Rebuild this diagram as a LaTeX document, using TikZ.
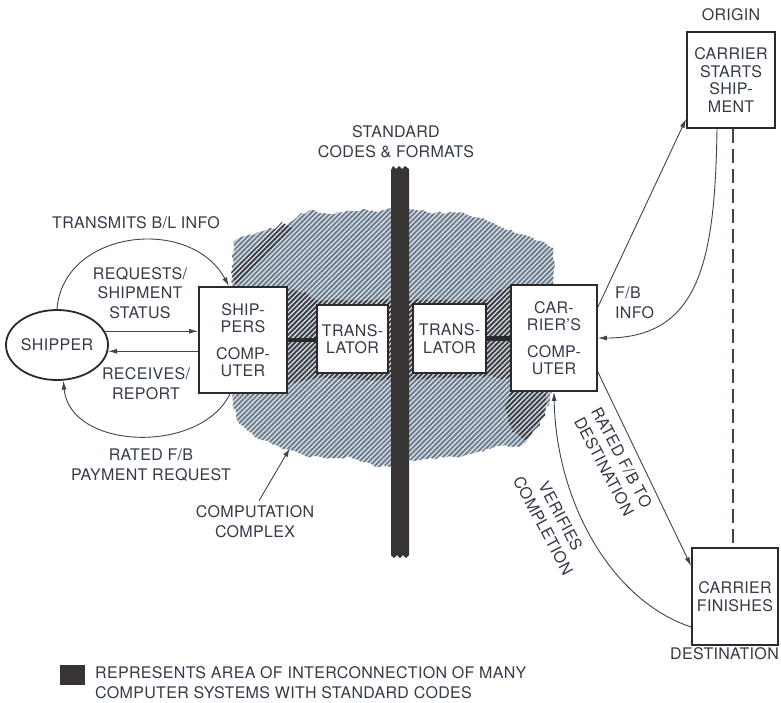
\documentclass[tikz,border=0pt]{standalone}
\usepackage{fontspec}
\setmainfont{TeX Gyre Heros}[LetterSpace=2]
\usetikzlibrary{shapes.geometric,arrows.meta,patterns.meta,decorations.pathmorphing}
\definecolor{ink}{HTML}{343B49}
\definecolor{edge}{HTML}{2A2A2C}
\definecolor{wire}{HTML}{3E4550}
\definecolor{hatchbase}{HTML}{D3D9DE}
\definecolor{hatchlight}{HTML}{66788A}
\definecolor{hatchdark}{HTML}{3E4046}
\definecolor{barfill}{HTML}{383434}
\newcommand\lblsize{\fontsize{16}{19.8}\selectfont}
\newcommand\boxsize{\fontsize{16}{17.5}\selectfont}
\begin{document}
\begin{tikzpicture}[x=1pt,y=-1pt,
  lbl/.style={font=\lblsize, text=ink, align=center, inner sep=1pt},
  box/.style={draw=edge, fill=white, line width=1.8pt, font=\boxsize, text=ink,
              align=center, inner sep=0pt},
  arr/.style={draw=wire, line width=0.9pt, -{Latex[length=9pt,width=5pt]}},
  link/.style={draw=edge, line width=4.5pt},
  lighthatch/.style={fill=hatchbase, postaction={pattern={Lines[angle=45,distance=3.5pt,line width=1.7pt]}, pattern color=hatchlight}},
  darkhatch/.style={pattern={Lines[angle=45,distance=3.5pt,line width=1.7pt]}, pattern color=hatchdark},
  ragged/.style={decorate, decoration={random steps,segment length=4pt,amplitude=1.5pt}}]
\useasboundingbox (0,0) rectangle (781,702);
\fill[white] (0,0) rectangle (781,702);

% computation complex: hatched area with ragged edge
\pgfmathsetseed{12}
\path[lighthatch, ragged]
  (233,242) -- (245,236) -- (258,232) -- (272,229) -- (287,226) -- (298,216) -- (310,210)
  -- (322,213) -- (335,214) -- (350,211) -- (365,209) -- (380,211) -- (392,208) -- (408,209)
  -- (420,211) -- (435,213) -- (450,212) -- (465,214) -- (480,218) -- (495,224) -- (507,230)
  -- (520,234) -- (533,238) -- (545,243) -- (553,248) -- (554,270) -- (553,300) -- (553,350)
  -- (552,380) -- (550,400) -- (540,423) -- (530,437) -- (520,447) -- (505,445) -- (490,449)
  -- (480,451) -- (465,455) -- (447,457) -- (430,458) -- (410,460) -- (392,466) -- (380,467)
  -- (365,462) -- (347,457) -- (330,458) -- (307,457) -- (295,451) -- (280,447) -- (262,440)
  -- (248,431) -- (237,420) -- (233,400) -- (233,350) -- (232,300) -- (233,270) -- cycle;
% darker hatching close to the computers and translators
\fill[darkhatch, ragged]
  (287,290) -- (305,292) -- (317,300) -- (391,300) -- (409,300) -- (486,300) -- (500,290)
  -- (511,286) -- (511,380) -- (487,376) -- (409,380) -- (391,380) -- (317,378) -- (287,385) -- cycle;
\fill[darkhatch, ragged]
  (511,391) -- (547,391) -- (544,418) -- (527,440) -- (512,432) -- (505,405) -- cycle;
% dark band on the upper left edge
\fill[darkhatch] (231,272) -- (282,222) -- (292,228) -- (236,286) -- cycle;

% standard codes & formats barrier
\fill[barfill] (391,170) -- (393,166) -- (396,169) -- (399,166) -- (402,169) -- (405,166)
  -- (409,169) -- (409,555) -- (406,558) -- (403,555) -- (400,558) -- (397,555) -- (394,558)
  -- (391,555) -- cycle;

% nodes
\node[draw=edge, fill=white, line width=1.8pt, ellipse, minimum width=88pt, minimum height=70pt,
      inner sep=0pt, font=\boxsize, text=ink] (shipper) at (57,345) {SHIPPER};
\node[box, minimum width=88pt, minimum height=106pt] (spc) at (243,340)
  {SHIP-\\PERS\\[9pt]COMP-\\UTER};
\node[box, minimum width=71pt, minimum height=68pt] (trl) at (352.5,339) {TRANS-\\LATOR};
\node[box, minimum width=73pt, minimum height=69pt] (trr) at (449.5,338.5) {TRANS-\\LATOR};
\node[box, minimum width=86pt, minimum height=106pt] (cc) at (554,338)
  {CAR-\\RIER'S\\[9pt]COMP-\\UTER};
\node[box, minimum width=88pt, minimum height=96pt] (cs) at (731,80)
  {CARRIER\\STARTS\\SHIP-\\MENT};
\node[box, minimum width=86pt, minimum height=97pt] (cf) at (735,596.5)
  {CARRIER\\FINISHES};

% links to the translators
\draw[link] (spc.east) -- (spc.east -| trl.west);
\draw[link] (trr.east) -- (trr.east -| cc.west);

% shipper side flows
\draw[arr] (shipper.16) -- (shipper.16 -| spc.west);
\draw[arr] (spc.west |- shipper.-7) -- (shipper.-7);
\draw[arr] (shipper.north) .. controls (63,230) and (190,215) .. ([xshift=-14pt]spc.north);
\draw[arr] ([xshift=-13pt]spc.south) .. controls (200,455) and (70,450) .. (shipper.-80);

% carrier side flows
\draw[arr] ([yshift=31pt]cc.east) -- ([yshift=10pt]cs.south west);
\draw[arr] ([xshift=-14pt]cs.south) .. controls (715,260) and (700,338) .. (cc.east);
\draw[arr] ([yshift=-34pt]cc.east) -- ([yshift=-19pt]cf.north west);
\draw[arr] ([yshift=-30.5pt]cf.west) .. controls (610,600) and (556,500) .. (cc.south);
\draw[draw=wire, line width=1.1pt, dash pattern=on 14pt off 6pt]
  ([xshift=2pt]cs.south) -- ([xshift=2pt]cs.south |- cf.north);

% labels
\node[lbl] (transmits) at (136,223) {TRANSMITS B/L INFO};
\node[lbl] (requests) at (140,293) {REQUESTS/\\SHIPMENT\\STATUS};
\node[lbl] (receives) at (146,384) {RECEIVES/\\REPORT};
\node[lbl] (ratedfb) at (151,465) {RATED F/B\\PAYMENT REQUEST};
\node[lbl] (compcx) at (255,522) {COMPUTATION\\COMPLEX};
\coordinate (cxtip) at (290,448);
\draw[arr] ([xshift=4pt,yshift=4pt]compcx.north) -- (cxtip);
\node[lbl] (standard) at (396,142) {STANDARD\\CODES \& FORMATS};
\node[lbl] (origin) at (731,15) {ORIGIN};
\node[lbl, anchor=east] (destination) at (780,654) {DESTINATION};
\node[lbl, anchor=west, align=left] (fbinfo) at (614,303) {F/B\\INFO};
\node[lbl, rotate=-62] (ratedto) at (613,462) {RATED F/B TO\\DESTINATION};
\node[lbl, rotate=-62] (verifies) at (552,521) {VERIFIES\\COMPLETION};

% key
\node[fill=barfill, minimum width=25pt, minimum height=20pt, inner sep=0pt] (key) at (72.5,675) {};
\node[lbl, anchor=west, align=left] (keytext) at (94,683)
  {REPRESENTS AREA OF INTERCONNECTION OF MANY\\COMPUTER SYSTEMS WITH STANDARD CODES};
\end{tikzpicture}
\end{document}
